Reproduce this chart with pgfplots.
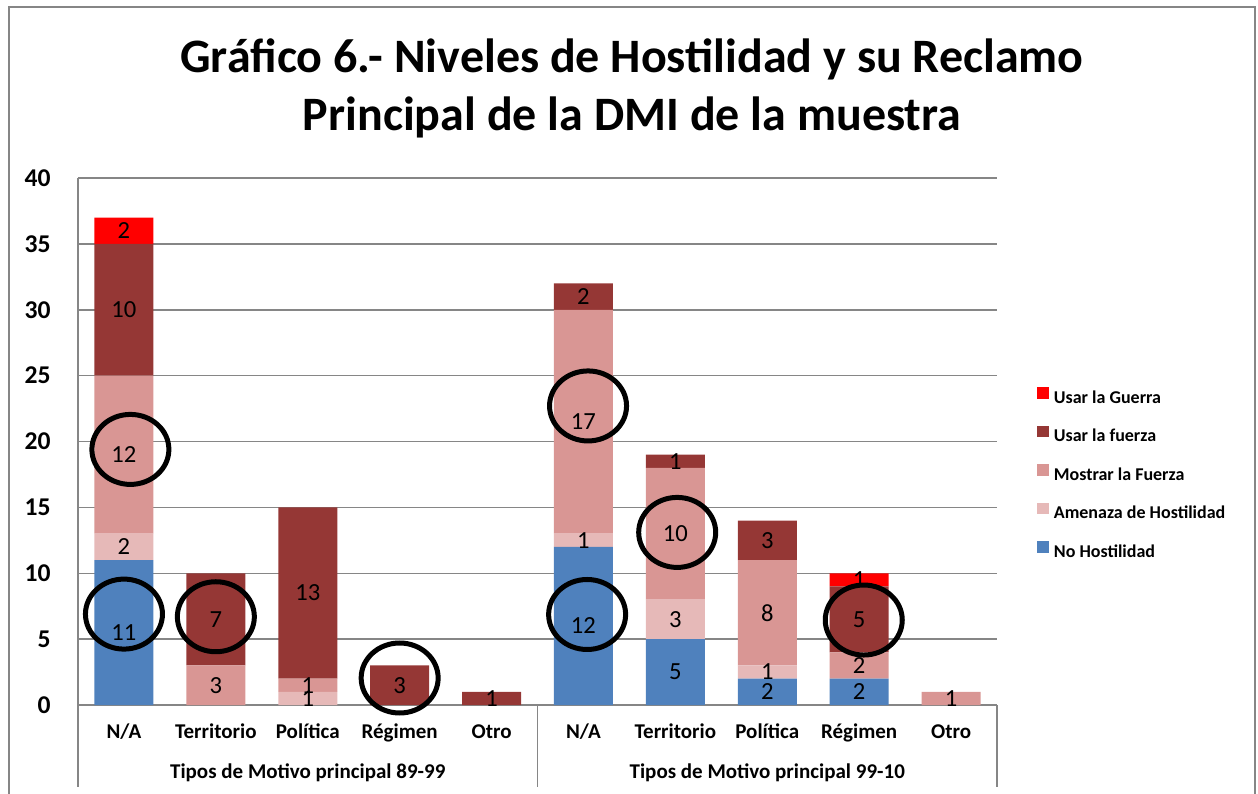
\documentclass[border=0pt]{standalone}
\usepackage{fontspec}
\setmainfont{Carlito}
\usepackage{pgfplots}
\pgfplotsset{compat=1.18}
\definecolor{guerra}{RGB}{255,0,0}
\definecolor{fuerza}{RGB}{149,55,53}
\definecolor{mostrar}{RGB}{217,150,148}
\definecolor{amenaza}{RGB}{230,185,184}
\definecolor{nohost}{RGB}{79,129,189}
\definecolor{gridgray}{RGB}{134,134,134}

% same frame for the bar axis and the overlay (labels, circles)
\pgfplotsset{chartbox/.style={at={(39bp,-352.5bp)},anchor=south west,scale only axis,
  width=459.5bp,height=263.5bp,xmin=-0.5,xmax=9.5,ymin=0,ymax=40}}

\begin{document}
\begin{tikzpicture}
\useasboundingbox (0,0) rectangle (629bp,-397bp);
\draw[gridgray,line width=0.6bp] (4.5bp,-400bp) -- (4.5bp,-3.5bp) -- (627.5bp,-3.5bp) -- (627.5bp,-400bp);
\node[anchor=base,font=\fontsize{24bp}{28bp}\selectfont\bfseries] at (316bp,-36bp) {Gráfico 6.- Niveles de Hostilidad y su Reclamo};
\node[anchor=base,font=\fontsize{24bp}{28bp}\selectfont\bfseries] at (316bp,-65bp) {Principal de la DMI de la muestra};

\begin{axis}[chartbox,ybar stacked,bar width=29.5bp,clip=false,
  xtick={0,1,...,9},
  xticklabels={N/A,Territorio,Política,Régimen,Otro,N/A,Territorio,Política,Régimen,Otro},
  ytick={0,5,...,40},
  ymajorgrids,grid style={gridgray,line width=0.75bp},
  axis x line*=bottom,axis y line*=left,axis line style={gridgray,line width=0.75bp},
  major tick length=0pt,
  /pgf/number format/assume math mode=true,
  yticklabel style={font=\fontsize{12.8bp}{14bp}\selectfont\bfseries,anchor=east,inner sep=0pt,xshift=-13.5bp},
  xticklabel style={font=\fontsize{10.5bp}{12bp}\selectfont\bfseries,anchor=base,yshift=-16.5bp},
  reverse legend,
  legend image code/.code={\fill[#1,draw=none] (0bp,0bp) rectangle (5.75bp,5.75bp);},
  legend style={draw=none,fill=none,at={(1.0435,0.438)},anchor=west,inner sep=0pt,
    font=\fontsize{9bp}{10bp}\selectfont\bfseries,row sep=9.25bp,
    nodes={inner xsep=2.5bp,inner ysep=0pt,text height=6.5bp,text depth=2bp}},
  legend cell align=left]
\addplot[fill=nohost,draw=none] coordinates {(0,11) (1,0) (2,0) (3,0) (4,0) (5,12) (6,5) (7,2) (8,2) (9,0)};
\addplot[fill=amenaza,draw=none] coordinates {(0,2) (1,0) (2,1) (3,0) (4,0) (5,1) (6,3) (7,1) (8,0) (9,0)};
\addplot[fill=mostrar,draw=none] coordinates {(0,12) (1,3) (2,1) (3,0) (4,0) (5,17) (6,10) (7,8) (8,2) (9,1)};
\addplot[fill=fuerza,draw=none] coordinates {(0,10) (1,7) (2,13) (3,3) (4,1) (5,2) (6,1) (7,3) (8,5) (9,0)};
\addplot[fill=guerra,draw=none] coordinates {(0,2) (1,0) (2,0) (3,0) (4,0) (5,0) (6,0) (7,0) (8,1) (9,0)};
\legend{No Hostilidad,Amenaza de Hostilidad,Mostrar la Fuerza,Usar la fuerza,Usar la Guerra}
% multi-level category axis
\draw[gridgray,line width=0.75bp] (axis cs:-0.5,0) -- ([yshift=-41bp]axis cs:-0.5,0);
\draw[gridgray,line width=0.75bp] (axis cs:4.5,0) -- ([yshift=-41bp]axis cs:4.5,0);
\draw[gridgray,line width=0.75bp] (axis cs:9.5,0) -- ([yshift=-41bp]axis cs:9.5,0);
\node[anchor=base,yshift=-36.5bp,font=\fontsize{10.5bp}{12bp}\selectfont\bfseries] at (axis cs:2,0) {Tipos de Motivo principal 89-99};
\node[anchor=base,yshift=-36.5bp,font=\fontsize{10.5bp}{12bp}\selectfont\bfseries] at (axis cs:7,0) {Tipos de Motivo principal 99-10};
\end{axis}

\begin{axis}[chartbox,hide axis,clip=false]
% data labels at the middle of each segment
\addplot[draw=none,mark=none,nodes near coords,point meta=explicit symbolic,
  every node near coord/.append style={anchor=center,font=\fontsize{12.3bp}{14bp}\selectfont,text=black}]
  coordinates {(0,5.5)[11] (0,12)[2] (0,19)[12] (0,30)[10] (0,36)[2]
    (1,1.5)[3] (1,6.5)[7]
    (2,0.5)[1] (2,1.5)[1] (2,8.5)[13]
    (3,1.5)[3] (4,0.5)[1]
    (5,6)[12] (5,12.5)[1] (5,21.5)[17] (5,31)[2]
    (6,2.5)[5] (6,6.5)[3] (6,13)[10] (6,18.5)[1]
    (7,1)[2] (7,2.5)[1] (7,7)[8] (7,12.5)[3]
    (8,1)[2] (8,3)[2] (8,6.5)[5] (8,9.5)[1]
    (9,0.5)[1]};
% hand-drawn highlight circles
\addplot[only marks,mark=o,mark size=17.5bp,mark options={line width=2.5bp,xscale=1.1,draw=black}]
  coordinates {(0,6.9) (1,6.7) (0.07,19.4) (3,2.05) (5.04,6.87) (5.05,22.7) (6.02,13.1) (8.05,6.45)};
\end{axis}
\end{tikzpicture}
\end{document}
